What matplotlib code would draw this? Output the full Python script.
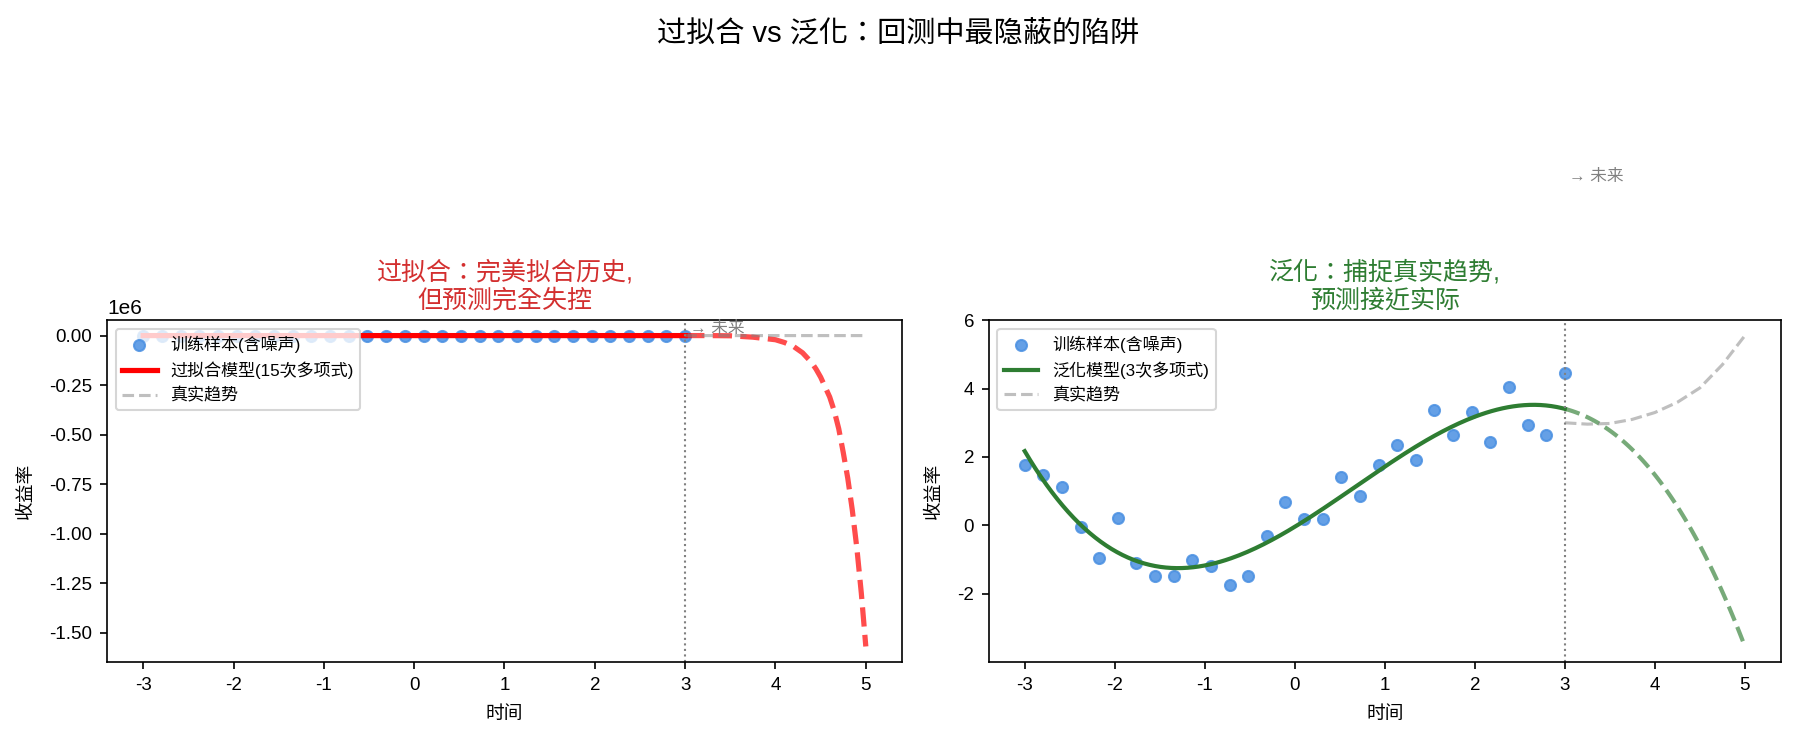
"""Overfitting vs generalization: two-panel backtest illustration."""

import numpy as np
import matplotlib

matplotlib.use("Agg")
import matplotlib.pyplot as plt
from matplotlib.ticker import MultipleLocator

plt.rcParams["font.family"] = ["Liberation Sans", "Noto Sans CJK TC"]
plt.rcParams["axes.unicode_minus"] = False

# training samples (noisy)
x_train = np.linspace(-3, 3, 30)
y_train = [1.76, 1.48, 1.12, -0.06, -0.94, 0.21, -1.10, -1.49, -1.49, -1.02,
           -1.20, -1.74, -1.47, -0.30, 0.67, 0.20, 0.20, 1.42, 0.86, 1.77,
           2.35, 1.91, 3.36, 2.65, 3.32, 2.44, 4.05, 2.94, 2.64, 4.46]

# true trend beyond the training window
x_future = [3.0, 3.25, 3.5, 3.75, 4.0, 4.25, 4.5, 4.75, 5.0]
y_true_future = [3.00, 2.96, 2.98, 3.10, 3.30, 3.60, 4.02, 4.70, 5.55]

# 15th-degree overfit model extrapolation (units of 1e6)
x_over_future = [3.0, 3.25, 3.5, 3.75, 4.0, 4.1, 4.2, 4.3, 4.4, 4.45, 4.5,
                 4.55, 4.6, 4.65, 4.7, 4.75, 4.8, 4.85, 4.9, 4.95, 5.0]
y_over_future = [0.0, 0.0, -0.001, -0.008, -0.021, -0.035, -0.055, -0.087,
                 -0.136, -0.17, -0.21, -0.26, -0.31, -0.38, -0.47, -0.59,
                 -0.72, -0.88, -1.07, -1.30, -1.57]

POINT_COLOR = "#4A90E2"
RED = "#D32F2F"
GREEN = "#2E7D32"


def _decorate(ax, title, color):
    ax.axvline(3, color="gray", linestyle=":", linewidth=1)
    ax.set_title(title, color=color, fontsize=12)
    ax.set_xlabel("时间", fontsize=9, labelpad=6)
    ax.set_ylabel("收益率", fontsize=9, labelpad=7)
    ax.tick_params(labelsize=9)
    ax.legend(loc="upper left", fontsize=8.2)


fig = plt.figure(figsize=(1796 / 150, 741 / 150), dpi=150)
ax1 = fig.add_axes([0.0596, 0.1066, 0.4426, 0.4615])
ax2 = fig.add_axes([0.5505, 0.1066, 0.4411, 0.4615])

# left: overfit
ax1.scatter(x_train, y_train, s=28, color=POINT_COLOR, alpha=0.85, label="训练样本(含噪声)")
ax1.plot(x_train, y_train, color="red", linewidth=2.5, label="过拟合模型(15次多项式)")
ax1.plot(x_over_future, np.array(y_over_future) * 1e6, color="red", linestyle="--",
         linewidth=2.5, alpha=0.7)
ax1.plot(x_future, y_true_future, color="gray", linestyle="--", linewidth=1.5,
         alpha=0.5, label="真实趋势")
ax1.yaxis.set_major_locator(MultipleLocator(0.25e6))
_decorate(ax1, "过拟合：完美拟合历史,\n但预测完全失控", RED)
ax1.text(3.05, 0.035e6, "→ 未来", fontsize=8, color="gray", va="center", clip_on=False)

# right: generalization (cubic fit of the same samples)
coef = np.polyfit(x_train, y_train, 3)
x_in = np.linspace(-3, 3, 200)
x_out = np.linspace(3, 5, 100)
ax2.scatter(x_train, y_train, s=28, color=POINT_COLOR, alpha=0.85, label="训练样本(含噪声)")
ax2.plot(x_in, np.polyval(coef, x_in), color=GREEN, linewidth=2, label="泛化模型(3次多项式)")
ax2.plot(x_out, np.polyval(coef, x_out), color=GREEN, linestyle="--", linewidth=2, alpha=0.65)
ax2.plot(x_future, y_true_future, color="gray", linestyle="--", linewidth=1.5,
         alpha=0.5, label="真实趋势")
_decorate(ax2, "泛化：捕捉真实趋势,\n预测接近实际", GREEN)
ax2.text(3.05, 10.2, "→ 未来", fontsize=8, color="gray", va="center", clip_on=False)

fig.suptitle("过拟合 vs 泛化：回测中最隐蔽的陷阱", fontsize=14, y=0.972, va="top")

fig.savefig("out.png", dpi=150)
